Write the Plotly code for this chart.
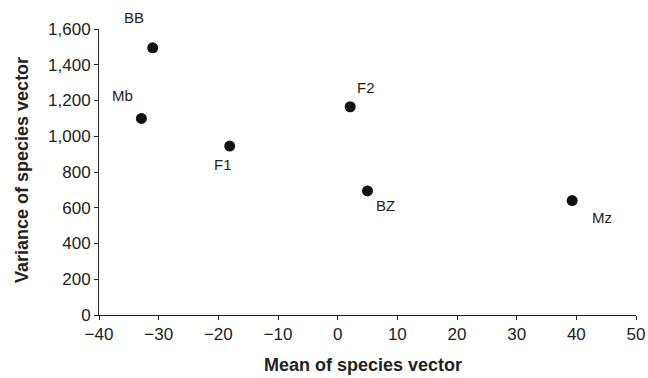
import plotly.graph_objects as go

sites = ["BB", "Mb", "F1", "F2", "BZ", "Mz"]
mean_vec = [-31.0, -32.9, -18.1, 2.1, 5.0, 39.3]
var_vec = [1495, 1100, 945, 1165, 694, 640]
x_title = "Mean of species vector"
y_title = "Variance of species vector"

# label offsets in pixels (dx, dy) relative to each point
label_offsets = {"BB": (-19, -30), "Mb": (-19, -23), "F1": (-7, 18),
                 "F2": (16, -19), "BZ": (18, 15), "Mz": (30, 17)}

FONT = "Liberation Sans, Arial, Helvetica, sans-serif"
W, H = 648, 378
ML, MR, MT, MB = 99, 12, 29, 63
PW, PH = W - ML - MR, H - MT - MB

fig = go.Figure()
fig.add_trace(go.Scatter(x=mean_vec, y=var_vec, mode="markers",
                         marker=dict(size=11, color="#111111"),
                         showlegend=False, cliponaxis=False))

for s, x, y in zip(sites, mean_vec, var_vec):
    dx, dy = label_offsets[s]
    fig.add_annotation(x=x, y=y, text=s, showarrow=False, xshift=dx, yshift=-dy,
                       font=dict(size=15, color="#222222", family=FONT))

# axis titles placed as paper annotations
fig.add_annotation(xref="paper", yref="paper", x=0.5 + (363 - (ML + PW / 2)) / PW,
                   y=-(365 - (MT + PH)) / PH, text="<b>" + x_title + "</b>",
                   showarrow=False, xanchor="center", yanchor="middle",
                   font=dict(size=18, color="#222222", family=FONT))
fig.add_annotation(xref="paper", yref="paper", x=-(ML - 22) / PW,
                   y=0.5 + ((MT + PH / 2) - 170) / PH, text="<b>" + y_title + "</b>",
                   textangle=-90, showarrow=False, xanchor="center", yanchor="middle",
                   font=dict(size=18, color="#222222", family=FONT))

fig.update_layout(
    template="none",
    width=W, height=H,
    margin=dict(l=ML, r=MR, t=MT, b=MB, autoexpand=False),
    paper_bgcolor="white", plot_bgcolor="white",
    font=dict(family=FONT, color="#222222"),
    xaxis=dict(range=[-40, 50], dtick=10, tick0=0, showgrid=False, zeroline=False,
               automargin=False,
               showline=True, linecolor="#222222", linewidth=1,
               ticks="outside", ticklen=4, tickcolor="#222222",
               tickfont=dict(size=17), ticklabeloverflow="allow"),
    yaxis=dict(range=[0, 1600], dtick=200, showgrid=False, zeroline=False,
               automargin=False,
               showline=True, linecolor="#222222", linewidth=1,
               ticks="outside", ticklen=4, tickcolor="#222222",
               tickformat=",", tickfont=dict(size=17)),
)

fig.write_html("out.html", config={"displayModeBar": False},
               post_script="document.body.style.margin='0';document.body.style.overflow='hidden';document.documentElement.style.overflow='hidden';")
